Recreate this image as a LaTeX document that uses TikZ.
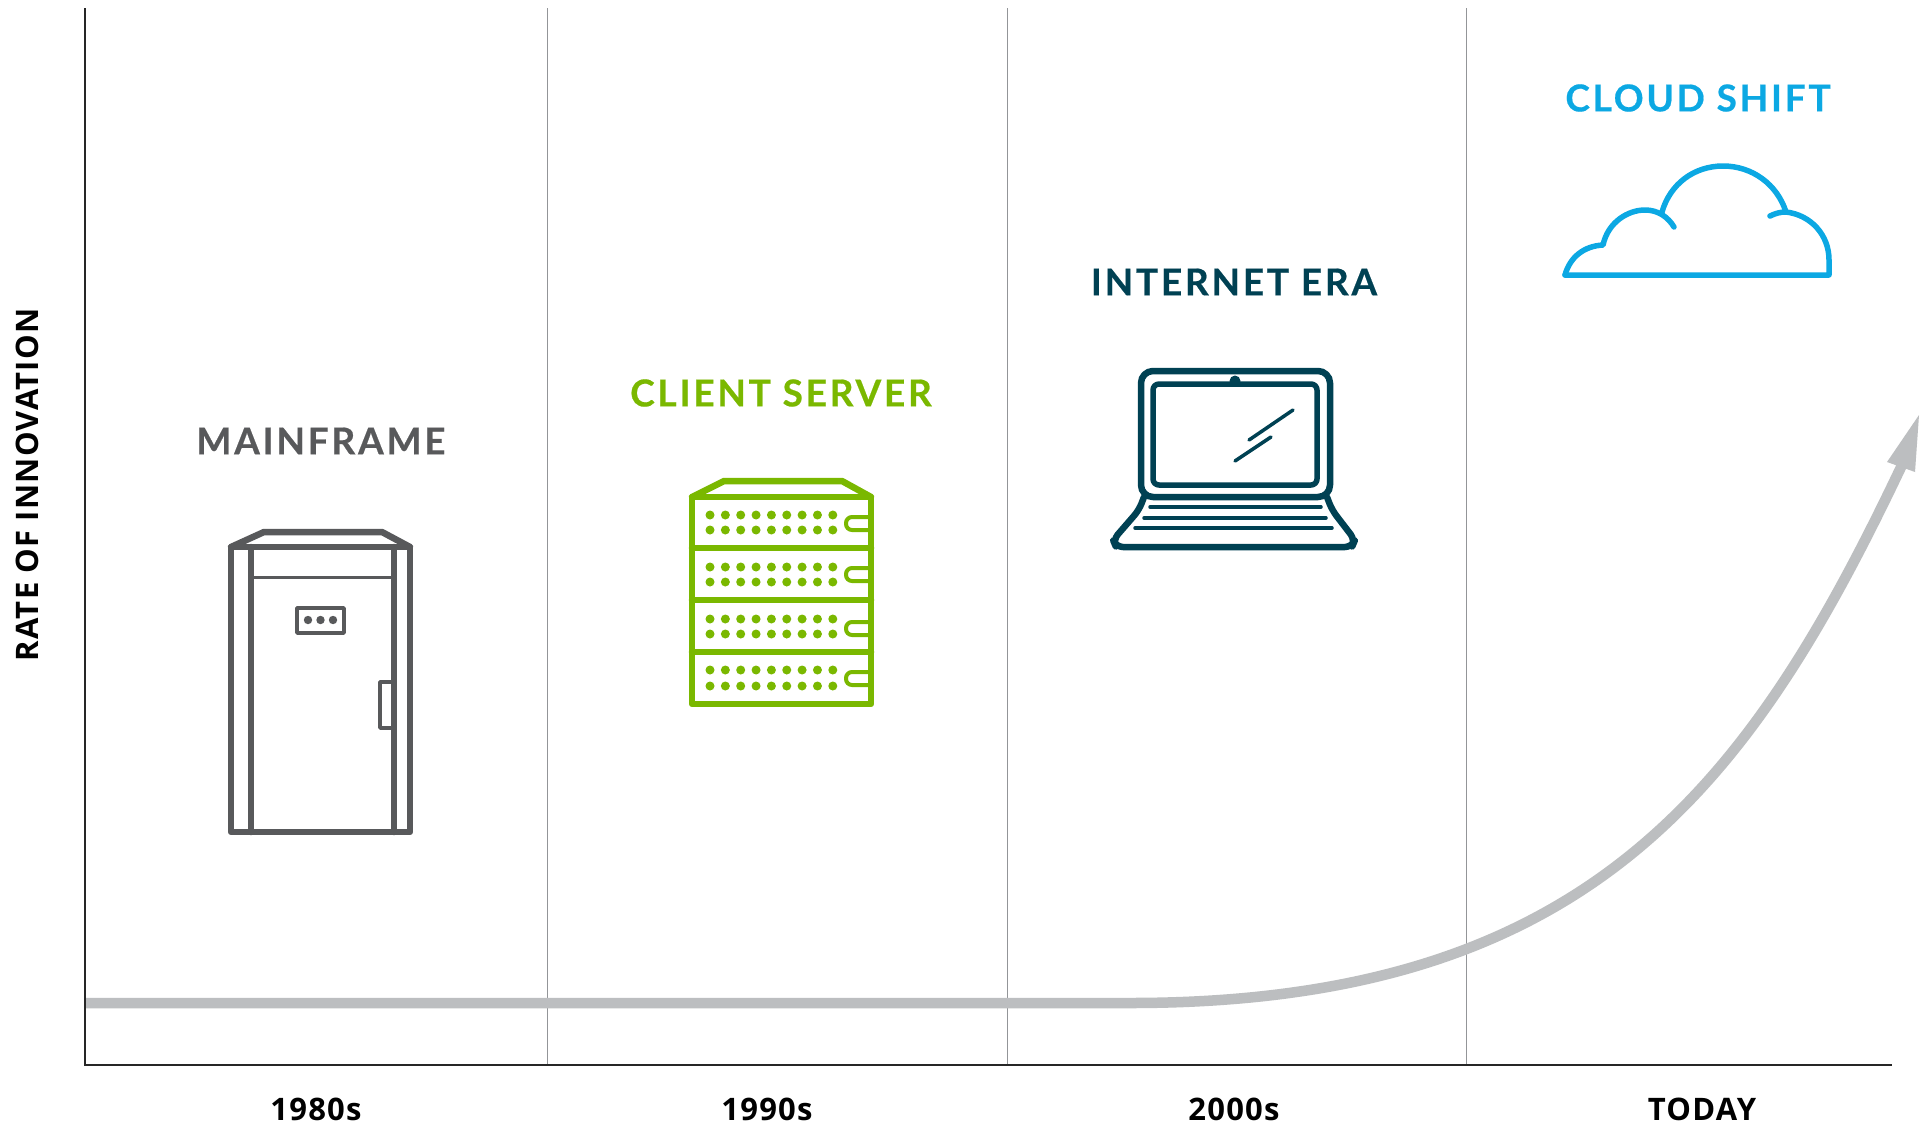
\documentclass[tikz,border=0pt]{standalone}
\usepackage{fontspec}
\setmainfont{Lato}
\definecolor{cgray}{HTML}{58595B}
\definecolor{cgreen}{HTML}{7AB800}
\definecolor{cnavy}{HTML}{004153}
\definecolor{cblue}{HTML}{0CA8E3}
\definecolor{carrow}{HTML}{BCBEC0}
\definecolor{caxis}{HTML}{939598}
\newfontfamily\lab[LetterSpace=7.5,BoldFeatures={FakeBold=0.5}]{Lato}
\newfontfamily\per[LetterSpace=4]{Open Sans}
\tikzset{
  divider/.style={caxis,line width=1.5pt},
  axisline/.style={black!85,line width=2pt},
  era/.style={font=\lab\bfseries\fontsize{37}{37}\selectfont,anchor=center,inner sep=0pt},
  period/.style={font=\per\bfseries\fontsize{31}{31}\selectfont,black,anchor=center,inner sep=0pt},
  thick icon/.style={line width=6.5pt,line join=round,line cap=round},
}
\begin{document}
\begin{tikzpicture}[x=1pt,y=-1pt]
\useasboundingbox[fill=white] (0,0) rectangle (1929,1127);
% axes
\coordinate (top) at (85,8);
\coordinate (org) at (85,1065);
\coordinate (end) at (1892,1065);
\foreach \x in {547.5,1007.5,1466.5} \draw[divider] (\x,8) -- (\x,1065);
% growth curve
\coordinate (cs) at (85,1003);
\coordinate (cm) at (1130,1003);
\coordinate (ce) at (1902,465);
\draw[carrow,line width=10.5pt] (cs) -- (cm) .. controls (1590,1003) and (1750,785) .. (ce);
\fill[carrow] (1919,415) -- (1887,462) -- (1915,472) -- cycle;
\draw[axisline] (top) -- (org) -- (end);
% labels
\node[era,cgray] (l1) at (321,441) {MAINFRAME};
\node[era,cgreen] (l2) at (781,393) {CLIENT SERVER};
\node[era,cnavy] (l3) at (1234,282) {INTERNET ERA};
\node[era,cblue] (l4) at (1698,98) {CLOUD SHIFT};
\node[period] (p1) at (316,1109) {1980s};
\node[period] (p2) at (767,1109) {1990s};
\node[period] (p3) at (1234,1109) {2000s};
\node[period] (p4) at (1702,1109) {TODAY};
\node[period,rotate=90] (yl) at (27,485) {RATE OF INNOVATION};
% mainframe
\begin{scope}[cgray,thick icon]
\draw (231,547) -- (231,832) -- (410,832) -- (410,547) -- cycle;
\draw (231,547) -- (264,532) -- (382,532) -- (410,547);
\draw (251,547) -- (251,832) (394,547) -- (394,832);
\draw[line width=3pt] (251,577) -- (394,577);
\draw[line width=3.5pt] (297,608) rectangle (344,633);
\fill (308,620) circle (4.2) (320.5,620) circle (4.2) (333,620) circle (4.2);
\draw[line width=3.5pt] (394,682) -- (380,682) -- (380,728) -- (394,728);
\end{scope}
% server
\begin{scope}[cgreen,thick icon]
\draw (692,497) -- (692,704) -- (871,704) -- (871,497) -- cycle;
\draw (692,497) -- (724,481) -- (842,481) -- (871,497);
\draw (692,548) -- (871,548) (692,600) -- (871,600) (692,652) -- (871,652);
\foreach \y in {515,530,567,582,619,634,670,686}
  \foreach \i in {0,...,8} \fill (710+\i*15.35,\y) circle (4.5);
\foreach \y in {517,568,622,672}
  \draw[line width=4pt,rounded corners=6pt] (868,\y) -- (846,\y) -- (846,\y+13) -- (868,\y+13);
\end{scope}
% laptop
\begin{scope}[cnavy,thick icon]
\draw[rounded corners=12pt] (1141,371) rectangle (1330,497);
\draw[line width=5.5pt,rounded corners=6pt] (1153,384) rectangle (1317,485);
\fill (1235,381) circle (5.5);
\draw[line width=3.5pt] (1249,440) -- (1293,410) (1235,461) -- (1271,437);
\draw[rounded corners=7pt] (1144,497) -- (1139,510) -- (1113,540) -- (1116,547) -- (1352,547) -- (1355,540) -- (1332,510) -- (1327,497);
\draw[line width=3.5pt] (1150,507) -- (1321,507) (1144,518) -- (1326,518) (1135,528) -- (1332,528);
\end{scope}
% cloud
\begin{scope}[cblue,thick icon,line width=5.5pt]
\draw (1565,275) .. controls (1570,257) and (1584,246) .. (1603,245)
  .. controls (1608,222) and (1628,210) .. (1645,210) .. controls (1658,210) and (1668,217) .. (1674,227);
\draw (1662,212) .. controls (1670,184) and (1694,166) .. (1723,166) .. controls (1752,166) and (1777,184) .. (1786,212);
\draw (1770,216) .. controls (1776,213) and (1781,212) .. (1786,212) .. controls (1811,215) and (1829,235) .. (1829,260) -- (1829,275) -- (1565,275);
\end{scope}
\end{tikzpicture}
\end{document}
